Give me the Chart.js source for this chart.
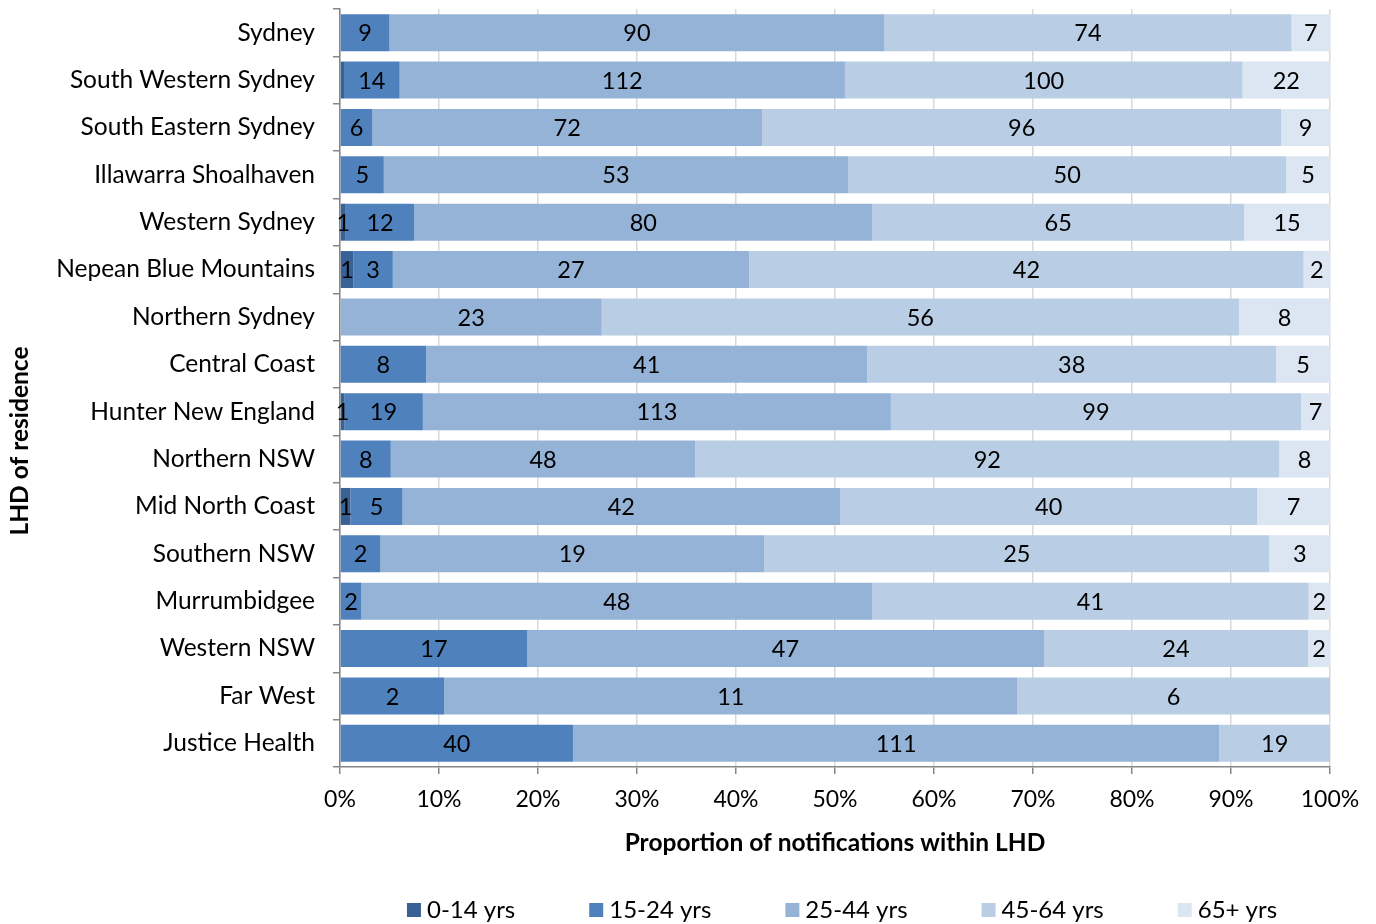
<!DOCTYPE html>
<html lang="en">
<head>
  <meta charset="UTF-8" />
  <title>Notifications by age group within LHD</title>
  <script src="https://cdn.jsdelivr.net/npm/chart.js"></script>
  <style>
    body { margin: 0; background: #fff; }
    #wrap { width: 1376px; height: 924px; }
  </style>
</head>
<body>
  <div id="wrap"><canvas id="lhdChart"></canvas></div>

<script>
  // counts of notifications per LHD, by age group
  const districts = ['Sydney', 'South Western Sydney', 'South Eastern Sydney', 'Illawarra Shoalhaven',
    'Western Sydney', 'Nepean Blue Mountains', 'Northern Sydney', 'Central Coast', 'Hunter New England',
    'Northern NSW', 'Mid North Coast', 'Southern NSW', 'Murrumbidgee', 'Western NSW', 'Far West', 'Justice Health'];
  const ageGroups = ['0-14 yrs', '15-24 yrs', '25-44 yrs', '45-64 yrs', '65+ yrs'];
  const age0to14  = [0, 1, 0, 0, 1, 1, 0, 0, 1, 0, 1, 0, 0, 0, 0, 0];
  const age15to24 = [9, 14, 6, 5, 12, 3, 0, 8, 19, 8, 5, 2, 2, 17, 2, 40];
  const age25to44 = [90, 112, 72, 53, 80, 27, 23, 41, 113, 48, 42, 19, 48, 47, 11, 111];
  const age45to64 = [74, 100, 96, 50, 65, 42, 56, 38, 99, 92, 40, 25, 41, 24, 6, 19];
  const age65plus = [7, 22, 9, 5, 15, 2, 8, 5, 7, 8, 7, 3, 2, 2, 0, 0];
  const xTicks = [0, 10, 20, 30, 40, 50, 60, 70, 80, 90, 100];

  const counts = [age0to14, age15to24, age25to44, age45to64, age65plus];
  const colours = ['#386195', '#4f81bd', '#95b3d7', '#b9cde5', '#dce6f2'];
  const FONT = 'Lato';

  // the label for the tiny 0-14 sliver in South Western Sydney isn't shown in the original
  const hideLabel = (ds, i) => ds === 0 && i === 1;

  const totals = districts.map((_, i) => counts.reduce((s, arr) => s + arr[i], 0));

  const datasets = counts.map((arr, k) => ({
    label: ageGroups[k],
    data: arr.map((v, i) => v / totals[i] * 100),
    backgroundColor: colours[k],
    borderWidth: 0,
    categoryPercentage: 1,
    barPercentage: 0.78
  }));

  const extras = {
    id: 'extras',
    afterDatasetsDraw(chart) {
      const ctx = chart.ctx;
      ctx.save();
      ctx.font = '23.5px ' + FONT;
      ctx.fillStyle = '#000';
      ctx.textAlign = 'center';
      ctx.textBaseline = 'middle';
      chart.data.datasets.forEach((ds, k) => {
        chart.getDatasetMeta(k).data.forEach((bar, i) => {
          const v = counts[k][i];
          if (!v || hideLabel(k, i)) return;
          ctx.fillText(String(v), (bar.x + bar.base) / 2, bar.y + 1);
        });
      });
      ctx.restore();
    },
    afterDraw(chart) {
      const ctx = chart.ctx;
      ctx.save();
      // y axis title
      ctx.font = 'bold 24.5px ' + FONT;
      ctx.fillStyle = '#000';
      ctx.textAlign = 'center';
      ctx.textBaseline = 'middle';
      ctx.translate(20, 441);
      ctx.rotate(-Math.PI / 2);
      ctx.fillText('LHD of residence', 0, 0);
      ctx.restore();

      // legend
      ctx.save();
      ctx.font = '24px ' + FONT;
      ctx.textBaseline = 'middle';
      const box = 14, gap = 6, pad = 74;
      const widths = ageGroups.map(t => box + gap + ctx.measureText(t).width);
      const total = widths.reduce((a, b) => a + b, 0) + pad * (widths.length - 1);
      let x = 842 - total / 2;
      const y = 910;
      ageGroups.forEach((t, k) => {
        ctx.fillStyle = colours[k];
        ctx.fillRect(x, y - box / 2, box, box);
        ctx.fillStyle = '#000';
        ctx.fillText(t, x + box + gap, y);
        x += widths[k] + pad;
      });
      ctx.restore();
    }
  };

  new Chart(document.getElementById('lhdChart'), {
    type: 'bar',
    data: { labels: districts, datasets: datasets },
    plugins: [extras],
    options: {
      indexAxis: 'y',
      responsive: true,
      maintainAspectRatio: false,
      animation: false,
      layout: { padding: { top: 9, right: 46, bottom: 62, left: 0 } },
      plugins: {
        legend: { display: false },
        tooltip: { enabled: false }
      },
      scales: {
        x: {
          stacked: true,
          min: 0,
          max: 100,
          afterBuildTicks: axis => { axis.ticks = xTicks.map(v => ({ value: v })); },
          afterFit: axis => { axis.height = 95; },
          ticks: {
            callback: v => v + '%',
            color: '#000',
            font: { family: FONT, size: 23 },
            padding: 12,
            maxRotation: 0
          },
          grid: { color: '#d9d9d9', tickColor: '#868686', tickLength: 7, lineWidth: 1.5 },
          border: { color: '#868686', width: 1.5 },
          title: {
            display: true,
            text: 'Proportion of notifications within LHD',
            color: '#000',
            font: { family: FONT, size: 24.5, weight: 'bold' },
            padding: { top: 4, bottom: 4 }
          }
        },
        y: {
          stacked: true,
          afterFit: axis => {
            axis.width = 340;
            axis.paddingTop = 0;
            axis.paddingBottom = 0;
          },
          ticks: {
            color: '#000',
            font: { family: FONT, size: 24.5 },
            padding: 18
          },
          grid: { drawOnChartArea: false, tickColor: '#868686', tickLength: 7, offset: true, lineWidth: 1.5 },
          border: { color: '#868686', width: 1.5 }
        }
      }
    }
  });
</script>
</body>
</html>
